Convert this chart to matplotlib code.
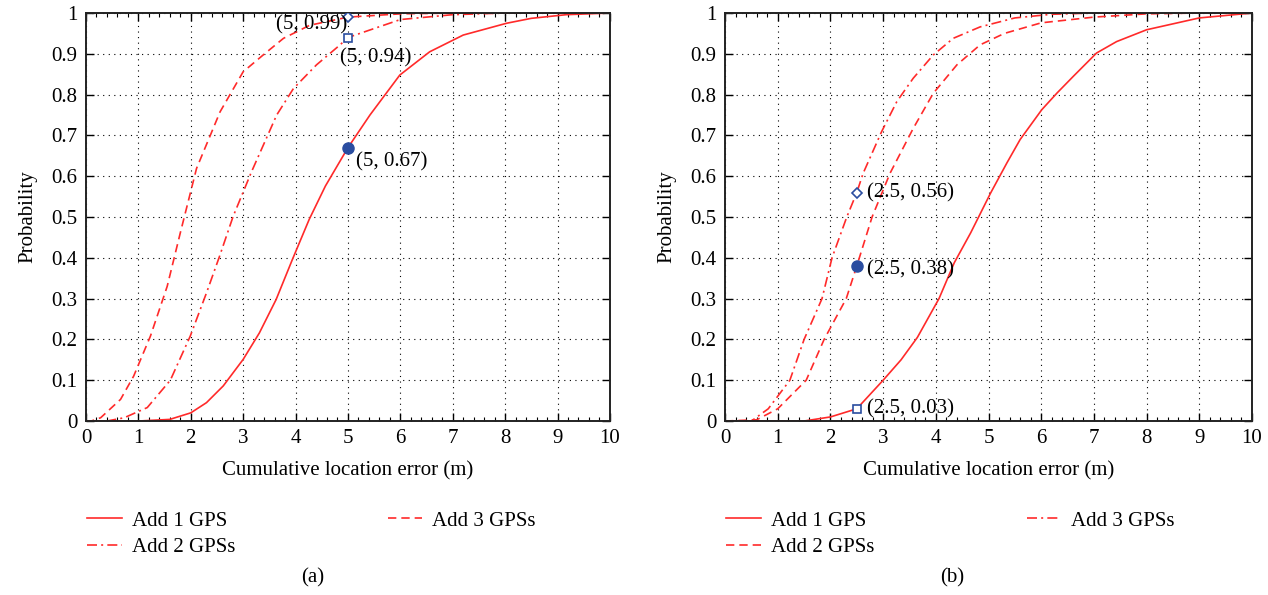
import numpy as np
import matplotlib
matplotlib.use("Agg")
import matplotlib.pyplot as plt
from matplotlib.ticker import MultipleLocator

#########################
# DATA
#########################
# panel (a)
a1_x = [0, 1.0, 1.6, 2.0, 2.3, 2.62, 3.0, 3.31, 3.63, 3.94, 4.26, 4.57, 5.0, 5.42, 5.99, 6.56, 7.2, 8.03, 8.5, 9.17, 10]
a1_y = [0, 0, 0.004, 0.02, 0.045, 0.086, 0.151, 0.216, 0.298, 0.396, 0.494, 0.576, 0.67, 0.75, 0.848, 0.905, 0.946, 0.975, 0.987, 0.996, 1.0]
a2_x = [0, 0.4, 0.73, 1.17, 1.61, 1.99, 2.3, 2.55, 2.81, 3.16, 3.64, 3.96, 4.4, 4.85, 5.0, 6.0, 7.0, 8.0, 10]
a2_y = [0, 0, 0.008, 0.033, 0.1, 0.208, 0.314, 0.404, 0.502, 0.611, 0.75, 0.815, 0.873, 0.922, 0.94, 0.984, 0.996, 1.0, 1.0]
a3_x = [0, 0.1, 0.28, 0.66, 0.91, 1.23, 1.55, 1.8, 2.11, 2.56, 3.0, 3.38, 3.77, 4.27, 5.0, 6.0, 7.0, 10]
a3_y = [0, 0, 0.008, 0.053, 0.11, 0.208, 0.33, 0.461, 0.619, 0.758, 0.856, 0.897, 0.938, 0.97, 0.99, 0.998, 1.0, 1.0]

# panel (b)
b1_x = [0, 1.5, 2.0, 2.5, 3.0, 3.34, 3.65, 4.06, 4.35, 4.66, 4.85, 5.04, 5.35, 5.6, 6.01, 6.3, 6.61, 7.05, 7.43, 8.0, 9.0, 10]
b1_y = [0, 0, 0.01, 0.03, 0.1, 0.15, 0.205, 0.3, 0.388, 0.461, 0.51, 0.559, 0.633, 0.69, 0.763, 0.804, 0.845, 0.902, 0.93, 0.959, 0.988, 1.0]
b2_x = [0, 0.6, 1.0, 1.54, 1.88, 2.3, 2.5, 2.79, 3.13, 3.57, 3.95, 4.4, 4.84, 5.3, 6.0, 7.0, 8.0, 9.0, 10]
b2_y = [0, 0.003, 0.03, 0.1, 0.2, 0.3, 0.38, 0.5, 0.607, 0.717, 0.803, 0.873, 0.922, 0.95, 0.976, 0.99, 0.998, 1.0, 1.0]
b3_x = [0, 0.5, 0.82, 1.23, 1.5, 1.84, 2.03, 2.31, 2.5, 2.62, 2.97, 3.26, 3.57, 3.95, 4.33, 4.84, 5.5, 6.2, 7.0, 10]
b3_y = [0, 0.0, 0.03, 0.1, 0.2, 0.3, 0.4, 0.5, 0.56, 0.607, 0.709, 0.783, 0.84, 0.897, 0.938, 0.966, 0.988, 0.997, 1.0, 1.0]

legend_labels = ["Add 1 GPS", "Add 2 GPSs", "Add 3 GPSs"]

# highlighted points: (x, y, marker, filled, label)
a_points = [(5, 0.99, "D", False, "(5, 0.99)"),
            (5, 0.94, "s", False, "(5, 0.94)"),
            (5, 0.67, "o", True, "(5, 0.67)")]
b_points = [(2.5, 0.56, "D", False, "(2.5, 0.56)"),
            (2.5, 0.38, "o", True, "(2.5, 0.38)"),
            (2.5, 0.03, "s", False, "(2.5, 0.03)")]

#########################
# STYLE
#########################
plt.rcParams['font.family'] = ['Liberation Serif', 'DejaVu Serif']
plt.rcParams['font.size'] = 15
RED = '#ff2a2a'
BLUE = '#2a4da0'
DASH = (0, (5, 3))
DASHDOT = (0, (6, 2.5, 1.2, 2.5))

fig = plt.figure(figsize=(12.68, 5.95), dpi=100)
axA = fig.add_axes([0.0678, 0.2924, 0.4132, 0.6857])
axB = fig.add_axes([0.5718, 0.2924, 0.4156, 0.6857])


def style_axis(ax):
    ax.set_xlim(0, 10)
    ax.set_ylim(0, 1)
    ax.xaxis.set_major_locator(MultipleLocator(1))
    ax.xaxis.set_minor_locator(MultipleLocator(0.2))
    ax.set_yticks(np.arange(0, 1.01, 0.1))
    ax.set_yticklabels(["0"] + ["%.1f" % v for v in np.arange(0.1, 0.95, 0.1)] + ["1"])
    ax.tick_params(which='both', direction='in', top=True, right=True, labelsize=15)
    ax.tick_params(which='major', length=6, width=1.0, pad=6)
    ax.tick_params(which='minor', length=3, width=0.8)
    ax.grid(True, which='major', color='black', linestyle=(0, (1, 4)), linewidth=0.8)
    for sp in ax.spines.values():
        sp.set_linewidth(1.4)
        sp.set_color('#222222')
    ax.set_xlabel("Cumulative location error (m)", fontsize=15, labelpad=9)
    ax.set_ylabel("Probability", fontsize=15, labelpad=10)


def add_points(ax, pts, offsets):
    for (px, py, mk, filled, txt), (dx, dy, ha) in zip(pts, offsets):
        if filled:
            ax.plot(px, py, marker=mk, color=BLUE, markersize=8, zorder=5)
        else:
            ax.plot(px, py, marker=mk, markerfacecolor='white', markeredgecolor=BLUE,
                    markersize=6 if mk == "s" else 5, markeredgewidth=1.2, zorder=5)
        ax.text(px + dx, py + dy, txt, ha=ha, va='center', fontsize=15, zorder=6)


def add_legend(ax, handles):
    ax.legend(handles, legend_labels, ncol=2, loc='upper left',
              bbox_to_anchor=(-0.033, -0.175), frameon=False, fontsize=15,
              handlelength=1.65, columnspacing=7.3, labelspacing=0.34, handletextpad=0.5)


# panel (a)
style_axis(axA)
lA1, = axA.plot(a1_x, a1_y, color=RED, lw=1.2, linestyle='-')
lA2, = axA.plot(a2_x, a2_y, color=RED, lw=1.2, linestyle=DASHDOT)
lA3, = axA.plot(a3_x, a3_y, color=RED, lw=1.2, linestyle=DASH)
add_points(axA, a_points, [(-0.02, -0.02, 'right'), (-0.15, -0.05, 'left'), (0.15, -0.035, 'left')])
add_legend(axA, [lA1, lA2, lA3])

# panel (b)
style_axis(axB)
lB1, = axB.plot(b1_x, b1_y, color=RED, lw=1.2, linestyle='-')
lB2, = axB.plot(b2_x, b2_y, color=RED, lw=1.2, linestyle=DASH)
lB3, = axB.plot(b3_x, b3_y, color=RED, lw=1.2, linestyle=DASHDOT)
add_points(axB, b_points, [(0.2, 0.0, 'left'), (0.2, -0.01, 'left'), (0.2, 0.0, 'left')])
add_legend(axB, [lB1, lB2, lB3])

fig.text(313 / 1268, 1 - 578 / 595, "(a)", ha='center', va='center', fontsize=15)
fig.text(952 / 1268, 1 - 578 / 595, "(b)", ha='center', va='center', fontsize=15)

fig.savefig("out.png", dpi=100)
